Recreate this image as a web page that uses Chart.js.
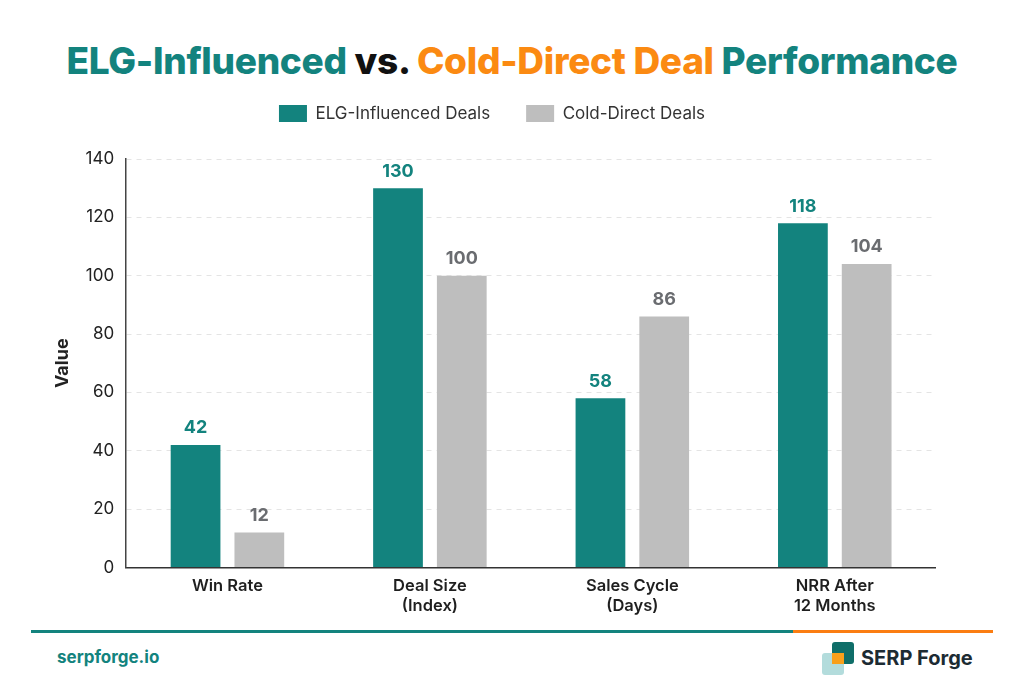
<!DOCTYPE html>
<html>
<head>
<meta charset="utf-8">
<script src="https://cdn.jsdelivr.net/npm/chart.js@4.4.1/dist/chart.umd.min.js"></script>
<style>
  html, body { margin: 0; padding: 0; background: #fff; }
  body { width: 1024px; height: 683px; position: relative; overflow: hidden; font-family: Inter, "Noto Sans", sans-serif; }
  #title { position: absolute; top: 38px; left: 0; width: 1024px; text-align: center; font-size: 37px; font-weight: 800; letter-spacing: -0.3px; color: #13837e; }
  #title .vs { color: #111; }
  #title .cold { color: #fb8a12; }
  #wrap { position: absolute; left: 30px; top: 69px; width: 906px; height: 548px; }
  #rule { position: absolute; top: 630px; left: 31px; width: 962px; height: 3px; background: linear-gradient(to right, #13837e 0, #13837e 79.2%, #fb7d12 79.2%, #fb7d12 100%); }
  #site { position: absolute; top: 647px; left: 57px; font-size: 17px; font-weight: 700; color: #13837e; }
  #brand { position: absolute; top: 642px; left: 822px; height: 32px; }
  #brand .b1 { position: absolute; left: 0; top: 11px; width: 22px; height: 22px; background: #b3dcdc; border-radius: 3px; }
  #brand .b2 { position: absolute; left: 10px; top: 0; width: 22px; height: 22px; background: #0f6e69; border-radius: 3px; }
  #brand .b3 { position: absolute; left: 10px; top: 11px; width: 12px; height: 11px; background: #f9a01b; }
  #brand .txt { position: absolute; left: 39px; top: 4px; white-space: nowrap; font-size: 20px; font-weight: 700; color: #1c2b33; }
</style>
</head>
<body>
<div id="title">ELG-Influenced <span class="vs">vs.</span> <span class="cold">Cold-Direct Deal</span> Performance</div>
<div id="wrap"><canvas id="chart"></canvas></div>
<div id="rule"></div>
<div id="site">serpforge.io</div>
<div id="brand"><div class="b1"></div><div class="b2"></div><div class="b3"></div><div class="txt">SERP Forge</div></div>
<script>
var categories = [['Win Rate'], ['Deal Size', '(Index)'], ['Sales Cycle', '(Days)'], ['NRR After', '12 Months']];
var elgValues = [42, 130, 58, 118];
var coldValues = [12, 100, 86, 104];
var yTicks = [0, 20, 40, 60, 80, 100, 120, 140];

var teal = '#13837e';
var grey = '#bebebe';

// draws the number above each bar
var valueLabels = {
    id: 'valueLabels',
    afterDatasetsDraw: function (chart) {
        var ctx = chart.ctx;
        ctx.save();
        ctx.font = '700 18px Inter, sans-serif';
        ctx.textAlign = 'center';
        ctx.textBaseline = 'bottom';
        chart.data.datasets.forEach(function (ds, i) {
            ctx.fillStyle = i === 0 ? teal : '#6a6c70';
            chart.getDatasetMeta(i).data.forEach(function (bar, j) {
                ctx.fillText(ds.data[j], bar.x, bar.y - 8);
            });
        });
        ctx.restore();
    }
};

// extra space under the legend
var legendGap = {
    id: 'legendGap',
    beforeInit: function (chart) {
        var fit = chart.legend.fit;
        chart.legend.fit = function () {
            fit.bind(chart.legend)();
            this.height += 27;
        };
    }
};

var ctx = document.getElementById('chart').getContext('2d');
var myChart = new Chart(ctx, {
    type: 'bar',
    data: {
        labels: categories,
        datasets: [{
            label: 'ELG-Influenced Deals',
            data: elgValues,
            backgroundColor: teal
        }, {
            label: 'Cold-Direct Deals',
            data: coldValues,
            backgroundColor: grey
        }]
    },
    options: {
        responsive: true,
        maintainAspectRatio: false,
        animation: false,
        categoryPercentage: 0.63,
        barPercentage: 0.78,
        layout: { padding: { top: 0, right: 0, left: 18, bottom: 0 } },
        plugins: {
            legend: {
                position: 'top',
                labels: {
                    boxWidth: 28,
                    boxHeight: 17,
                    padding: 36,
                    color: '#333',
                    font: { family: 'Inter, sans-serif', size: 17 }
                }
            },
            tooltip: { enabled: false }
        },
        scales: {
            x: {
                grid: { display: false },
                border: { color: '#333', width: 1.5 },
                ticks: {
                    color: '#1f1f1f',
                    font: { family: 'Inter, sans-serif', size: 16.5, weight: '600' },
                    padding: 1
                }
            },
            y: {
                min: 0,
                max: 140,
                afterBuildTicks: function (axis) {
                    axis.ticks = yTicks.map(function (v) { return { value: v }; });
                },
                border: { color: '#444', width: 1.5, dash: [5, 5] },
                grid: { color: '#e4e4e4', drawTicks: false },
                ticks: {
                    color: '#222',
                    font: { family: 'Inter, sans-serif', size: 17 },
                    padding: 12
                },
                title: {
                    display: true,
                    text: 'Value',
                    color: '#222',
                    font: { family: 'Inter, sans-serif', size: 18, weight: '700' },
                    padding: { bottom: 0 }
                }
            }
        }
    },
    plugins: [valueLabels, legendGap]
});
</script>
</body>
</html>
